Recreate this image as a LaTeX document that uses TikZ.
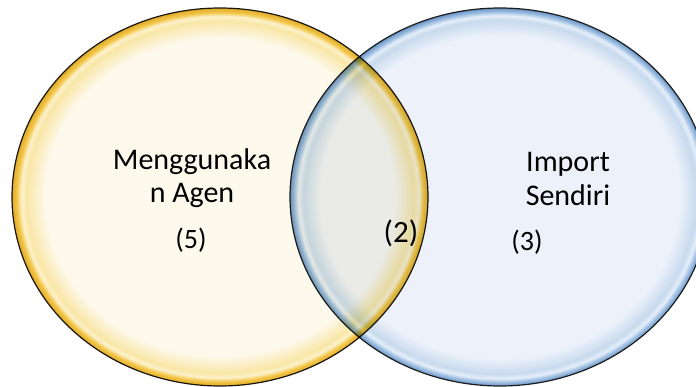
\documentclass[tikz,border=0pt]{standalone}
\usepackage{fontspec}
\setmainfont{Carlito}
\definecolor{ycream}{HTML}{FDF9EC}
\definecolor{ysoft}{HTML}{F9E6A6}
\definecolor{yhi}{HTML}{FCF1CC}
\definecolor{ygold}{HTML}{F3C84C}
\definecolor{ydark}{HTML}{E0AA28}
\definecolor{blight}{HTML}{ECF1FA}
\definecolor{bsoft}{HTML}{C8DAEE}
\definecolor{bhi}{HTML}{E4EEF9}
\definecolor{bmid}{HTML}{9FBFE2}
\definecolor{bdark}{HTML}{6A94C6}
\definecolor{edge}{HTML}{1C1C1C}
\pgfdeclareradialshading{yball}{\pgfpoint{0bp}{0bp}}{color(0bp)=(ycream); color(21.0bp)=(ycream); color(23.3bp)=(ysoft); color(23.9bp)=(yhi); color(24.4bp)=(ygold); color(25bp)=(ydark); color(50bp)=(ydark)}
\pgfdeclareradialshading{bball}{\pgfpoint{0bp}{0bp}}{color(0bp)=(blight); color(21.4bp)=(blight); color(23.4bp)=(bsoft); color(24.0bp)=(bhi); color(24.5bp)=(bmid); color(25bp)=(bdark); color(50bp)=(bdark)}
\tikzset{
  lbl/.style={font=\fontsize{30}{33.5}\selectfont, align=center, text=black, inner sep=0pt},
  num/.style={font=\fontsize{28}{32}\selectfont, text=black, inner sep=0pt},
  rim/.style={draw=edge, line width=1.2pt}
}
\begin{document}
\begin{tikzpicture}[x=1pt,y=-1pt]
\useasboundingbox (0,0) rectangle (696,387);
% right (blue) set
\shade[shading=bball] (500,197) ellipse [x radius=210pt, y radius=189pt];
\draw[rim] (500,197) ellipse [x radius=210pt, y radius=189pt];
% left (yellow) set, multiplied over the blue one
\begin{scope}[blend mode=multiply]
\shade[shading=yball] (220,197) ellipse [x radius=208pt, y radius=189pt];
\draw[rim] (220,197) ellipse [x radius=208pt, y radius=189pt];
\end{scope}
% labels
\node[lbl] (agen) at (192,178) {Menggunaka\\n Agen};
\node[num] (five) at (191,240) {(5)};
\node[lbl] (imp) at (568,179) {Import\\Sendiri};
\node[num] (three) at (527,242) {(3)};
\node[num, font=\fontsize{31}{34}\selectfont] (two) at (401,233) {(2)};
\end{tikzpicture}
\end{document}
